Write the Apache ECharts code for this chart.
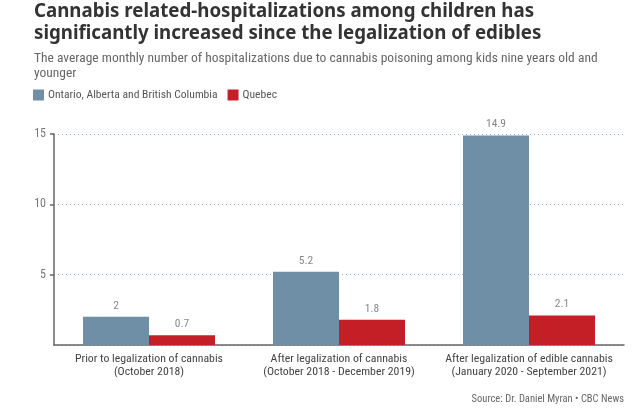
<!DOCTYPE html>
<html>
<head>
<meta charset="utf-8">
<script src="https://cdn.jsdelivr.net/npm/echarts@6/dist/echarts.min.js"></script>
<style>
  html, body { margin: 0; padding: 0; background: #fff; }
  #chart { width: 640px; height: 408px; }
</style>
</head>
<body>
<div id="chart"></div>
<script>
const categories = [
  'Prior to legalization of cannabis\n(October 2018)',
  'After legalization of cannabis\n(October 2018 - December 2019)',
  'After legalization of edible cannabis\n(January 2020 - September 2021)'
];
const westValues = [2, 5.2, 14.9];
const quebecValues = [0.7, 1.8, 2.1];
const yTicks = [0, 5, 10, 15];

const font = '"Roboto Condensed", "Source Sans 3", sans-serif';
const titleFont = '"Noto Sans", sans-serif';
const chart = echarts.init(document.getElementById('chart'));

chart.setOption({
  backgroundColor: '#fff',
  textStyle: { fontFamily: font },
  title: [
    {
      text: 'Cannabis related-hospitalizations among children has\nsignificantly increased since the legalization of edibles',
      left: 29, top: -5,
      textStyle: { fontSize: 18.7, fontWeight: 'bold', color: '#333', lineHeight: 22.5, fontFamily: titleFont }
    },
    {
      text: 'The average monthly number of hospitalizations due to cannabis poisoning among kids nine years old and\nyounger',
      left: 29, top: 46,
      textStyle: { fontSize: 13.5, fontWeight: 'normal', color: '#666', lineHeight: 15, fontFamily: font }
    },
    {
      text: 'Source: Dr. Daniel Myran • CBC News',
      right: 11, top: 389,
      textStyle: { fontSize: 10.5, fontWeight: 'normal', color: '#666', fontFamily: font }
    }
  ],
  legend: {
    left: 28, top: 84,
    itemWidth: 11, itemHeight: 11, itemGap: 10,
    icon: 'rect',
    textStyle: { fontSize: 11.6, color: '#555', padding: [0, 0, 0, -1] },
    data: ['Ontario, Alberta and British Columbia', 'Quebec']
  },
  grid: { left: 54, right: 16, top: 134, bottom: 63, containLabel: false },
  xAxis: {
    type: 'category',
    data: categories,
    axisLine: { lineStyle: { color: '#666', width: 1.5 } },
    axisTick: { show: false },
    axisLabel: { interval: 0, fontSize: 11.8, color: '#444', lineHeight: 13, margin: 8 }
  },
  yAxis: {
    type: 'value',
    min: yTicks[0], max: yTicks[yTicks.length - 1], interval: 5,
    axisLine: { show: true, lineStyle: { color: '#666', width: 1.5 } },
    axisTick: { show: true, length: 4, lineStyle: { color: '#666', width: 1.5 } },
    axisLabel: { fontSize: 12, color: '#777', margin: 8, showMinLabel: false },
    splitLine: { lineStyle: { type: [1, 3], color: '#9fb3c0' } }
  },
  series: [
    {
      name: 'Ontario, Alberta and British Columbia',
      type: 'bar',
      data: westValues,
      barWidth: 66,
      barGap: '0%',
      itemStyle: { color: '#6e8fa6' },
      label: { show: true, position: 'top', fontSize: 11.5, color: '#888', distance: 5 }
    },
    {
      name: 'Quebec',
      type: 'bar',
      data: quebecValues,
      barWidth: 66,
      itemStyle: { color: '#c41f26' },
      label: { show: true, position: 'top', fontSize: 11.5, color: '#888', distance: 5 }
    }
  ]
});
</script>
</body>
</html>
